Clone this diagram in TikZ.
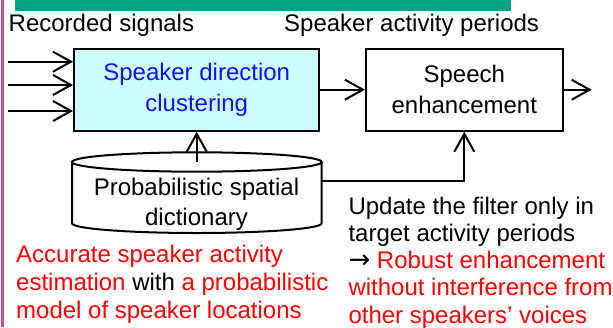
\documentclass[tikz,border=0pt]{standalone}
\usepackage{fontspec}
\setmainfont{Liberation Sans}
\newfontfamily\symfont{DejaVu Sans}
\usetikzlibrary{arrows.meta}
\definecolor{barGreen}{RGB}{0,163,131}
\definecolor{sideLine}{RGB}{196,82,140}
\definecolor{cyanFill}{RGB}{204,255,255}
\definecolor{textBlue}{RGB}{16,16,255}
\definecolor{textRed}{RGB}{255,0,0}
\tikzset{
  conn/.style={line width=2pt, -{Straight Barb[length=18pt,width=20pt]}},
  plain/.style={line width=2pt},
  blockbox/.style={draw, line width=2pt, align=center, inner sep=0pt,
    font=\fontsize{24}{31}\selectfont},
  lbl/.style={inner sep=0pt, font=\fontsize{24}{29}\selectfont},
}
\begin{document}
\begin{tikzpicture}[x=1pt,y=1pt]
\useasboundingbox (0,0) rectangle (613,-327);
% decorations
\fill[barGreen] (15,0) rectangle (511,-10.5);
\draw[sideLine, line width=2.5pt] (2.5,0) -- (2.5,-327);
% top labels
\node[lbl, anchor=base west] (lrec) at (8.5,-31) {Recorded signals};
\node[lbl, anchor=base west] (lsap) at (284,-31) {Speaker activity periods};
% blocks
\node[blockbox, fill=cyanFill, text=textBlue, minimum width=245.3pt, minimum height=82pt]
  (sdc) at (196.7,-89.7) {Speaker direction\\clustering};
\node[blockbox, fill=white, minimum width=196.7pt, minimum height=82pt]
  (se) at (464.3,-89.7) {Speech\\enhancement};
% cylinder
\filldraw[fill=white, line width=2pt] (72,-162) -- (72,-223.3)
  arc[start angle=180, end angle=360, x radius=124.85, y radius=9.7] -- (321.7,-162);
\draw[line width=2pt] (196.85,-162) ellipse[x radius=124.85, y radius=9.7];
\node[lbl, align=center, font=\fontsize{24}{30}\selectfont] (dict) at (196.5,-204)
  {Probabilistic spatial\\dictionary};
\coordinate (dtop) at (196.7,-162);
\coordinate (dright) at (321.7,-181);
% inputs
\coordinate (in1) at (8,-61.7);
\coordinate (in2) at (8,-85);
\coordinate (in3) at (8,-111);
\coordinate (out) at (591.7,-89.7);
\draw[conn] (in1) -- (in1 -| sdc.west);
\draw[conn] (in2) -- (in2 -| sdc.west);
\draw[conn] (in3) -- (in3 -| sdc.west);
\draw[conn] (sdc.east) -- (se.west);
\draw[conn] (se.east) -- (out);
\draw[conn] (dtop) -- (sdc.south);
\draw[conn] (dright) -| (se.south);
% annotations
\node[lbl, anchor=north west, align=left, text=textRed, font=\fontsize{24}{28.3}\selectfont]
  (noteL) at (16,-244.5)
  {Accurate speaker activity\\estimation {\color{black}with} a probabilistic\\model of speaker locations};
\node[lbl, anchor=north west, align=left, font=\fontsize{24}{27.2}\selectfont]
  (noteR) at (348.3,-196.8)
  {Update the filter only in\\target activity periods\\{\symfont\fontsize{26}{27.2}\selectfont →} {\color{textRed}Robust enhancement}\\{\color{textRed}without interference from}\\{\color{textRed}other speakers’ voices}};
\end{tikzpicture}
\end{document}
